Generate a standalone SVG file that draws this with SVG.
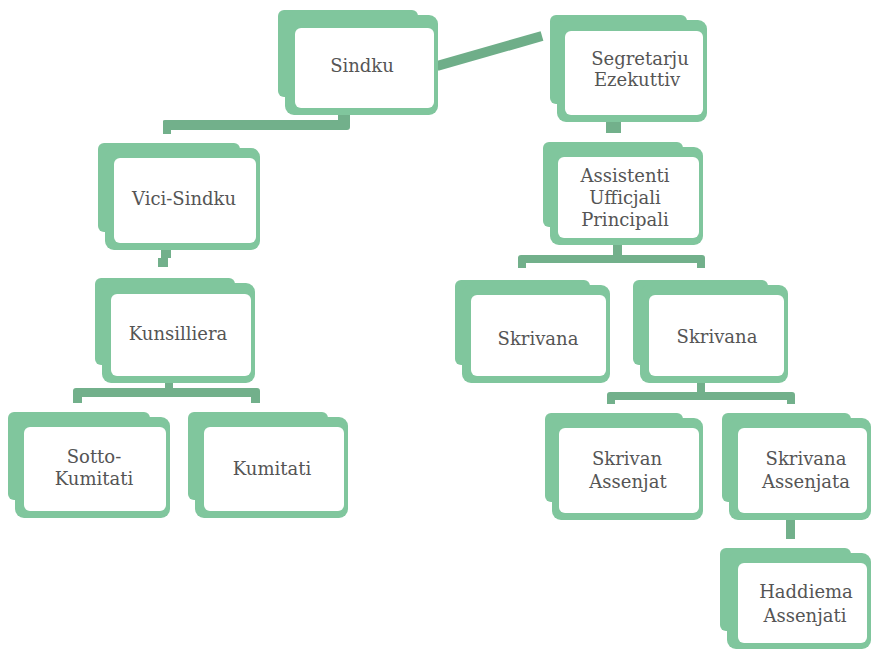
<svg xmlns="http://www.w3.org/2000/svg" width="873" height="650" viewBox="0 0 873 650">
<style>
.g{fill:#80c69d}
.w{fill:#ffffff}
.c{fill:#72b08b}
.t{font-family:"DejaVu Serif","Liberation Serif",serif;font-size:18px;fill:#555555;text-anchor:middle}
</style>
<rect x="0" y="0" width="873" height="650" fill="#ffffff"/>
<g id="connectors">
<line x1="437" y1="66" x2="542" y2="36" stroke="#6fae89" stroke-width="10"/>
<path class="c" d="M163,134 L163,121 Q163,120 165,120 L338,120 L338,112 L350,112 L350,127 Q350,130 347,130 L171,130 L171,134 Z"/>
<path class="c" d="M161,250 L171,250 L171,258 L168,258 L168,267 L158,267 L158,258 L161,258 Z"/>
<path class="c" d="M165,383 L173,383 L173,388 L257,388 Q260,388 260,391 L260,403 L251,403 L251,397 L82,397 L82,403 L73,403 L73,391 Q73,388 76,388 L165,388 Z"/>
<rect class="c" x="606" y="120" width="15" height="13"/>
<path class="c" d="M613,245 L622,245 L622,255 L702,255 Q705,255 705,258 L705,268 L697,268 L697,263 L526,263 L526,268 L518,268 L518,258 Q518,255 521,255 L613,255 Z"/>
<path class="c" d="M697,383 L705,383 L705,392 L792,392 Q795,392 795,395 L795,404 L787,404 L787,400 L615,400 L615,404 L607,404 L607,395 Q607,392 610,392 L697,392 Z"/>
<rect class="c" x="786" y="520" width="9" height="19"/>
</g>
<g id="n-sindku">
<rect class="g" x="278" y="10" width="140" height="87" rx="6"/>
<rect class="g" x="285" y="15" width="153" height="100" rx="9"/>
<rect class="w" x="295" y="28" width="139" height="80" rx="6"/>
<text class="t" x="362" y="72">Sindku</text>
</g>
<g id="n-segretarju">
<rect class="g" x="550" y="15" width="137" height="89" rx="6"/>
<rect class="g" x="557" y="20" width="150" height="102" rx="9"/>
<rect class="w" x="565" y="31" width="138" height="84" rx="6"/>
<text class="t" x="640" y="65">Segretarju</text>
<text class="t" x="637" y="86">Ezekuttiv</text>
</g>
<g id="n-assistenti">
<rect class="g" x="543" y="142" width="140" height="85" rx="6"/>
<rect class="g" x="550" y="147" width="153" height="98" rx="9"/>
<rect class="w" x="558" y="157" width="141" height="81" rx="6"/>
<text class="t" x="625" y="182">Assistenti</text>
<text class="t" x="625" y="204">Ufficjali</text>
<text class="t" x="625" y="226">Principali</text>
</g>
<g id="n-vici">
<rect class="g" x="98" y="143" width="142" height="89" rx="6"/>
<rect class="g" x="105" y="148" width="155" height="102" rx="9"/>
<rect class="w" x="114" y="158" width="142" height="85" rx="6"/>
<text class="t" x="184" y="205">Vici-Sindku</text>
</g>
<g id="n-kunsilliera">
<rect class="g" x="95" y="278" width="140" height="87" rx="6"/>
<rect class="g" x="102" y="283" width="153" height="100" rx="9"/>
<rect class="w" x="111" y="294" width="140" height="82" rx="6"/>
<text class="t" x="178" y="340">Kunsilliera</text>
</g>
<g id="n-sotto">
<rect class="g" x="8" y="412" width="142" height="88" rx="6"/>
<rect class="g" x="15" y="417" width="155" height="101" rx="9"/>
<rect class="w" x="24" y="427" width="142" height="84" rx="6"/>
<text class="t" x="94" y="463">Sotto-</text>
<text class="t" x="94" y="485">Kumitati</text>
</g>
<g id="n-kumitati">
<rect class="g" x="188" y="412" width="140" height="88" rx="6"/>
<rect class="g" x="195" y="417" width="153" height="101" rx="9"/>
<rect class="w" x="204" y="427" width="140" height="84" rx="6"/>
<text class="t" x="272" y="475">Kumitati</text>
</g>
<g id="n-skrivana-l">
<rect class="g" x="455" y="280" width="135" height="85" rx="6"/>
<rect class="g" x="462" y="285" width="148" height="98" rx="9"/>
<rect class="w" x="471" y="295" width="135" height="81" rx="6"/>
<text class="t" x="538" y="345">Skrivana</text>
</g>
<g id="n-skrivana-r">
<rect class="g" x="633" y="280" width="135" height="85" rx="6"/>
<rect class="g" x="640" y="285" width="148" height="98" rx="9"/>
<rect class="w" x="649" y="295" width="135" height="81" rx="6"/>
<text class="t" x="717" y="343">Skrivana</text>
</g>
<g id="n-skrivan-assenjat">
<rect class="g" x="545" y="413" width="138" height="89" rx="6"/>
<rect class="g" x="552" y="418" width="151" height="102" rx="9"/>
<rect class="w" x="559" y="428" width="140" height="85" rx="6"/>
<text class="t" x="627" y="465">Skrivan</text>
<text class="t" x="628" y="488">Assenjat</text>
</g>
<g id="n-skrivana-assenjata">
<rect class="g" x="722" y="413" width="129" height="89" rx="6"/>
<rect class="g" x="729" y="418" width="142" height="102" rx="9"/>
<rect class="w" x="738" y="428" width="129" height="85" rx="6"/>
<text class="t" x="806" y="465">Skrivana</text>
<text class="t" x="806" y="488">Assenjata</text>
</g>
<g id="n-haddiema">
<rect class="g" x="720" y="548" width="131" height="83" rx="6"/>
<rect class="g" x="727" y="553" width="144" height="96" rx="9"/>
<rect class="w" x="738" y="563" width="129" height="80" rx="6"/>
<text class="t" x="806" y="598">Haddiema</text>
<text class="t" x="805" y="622">Assenjati</text>
</g>
</svg>
